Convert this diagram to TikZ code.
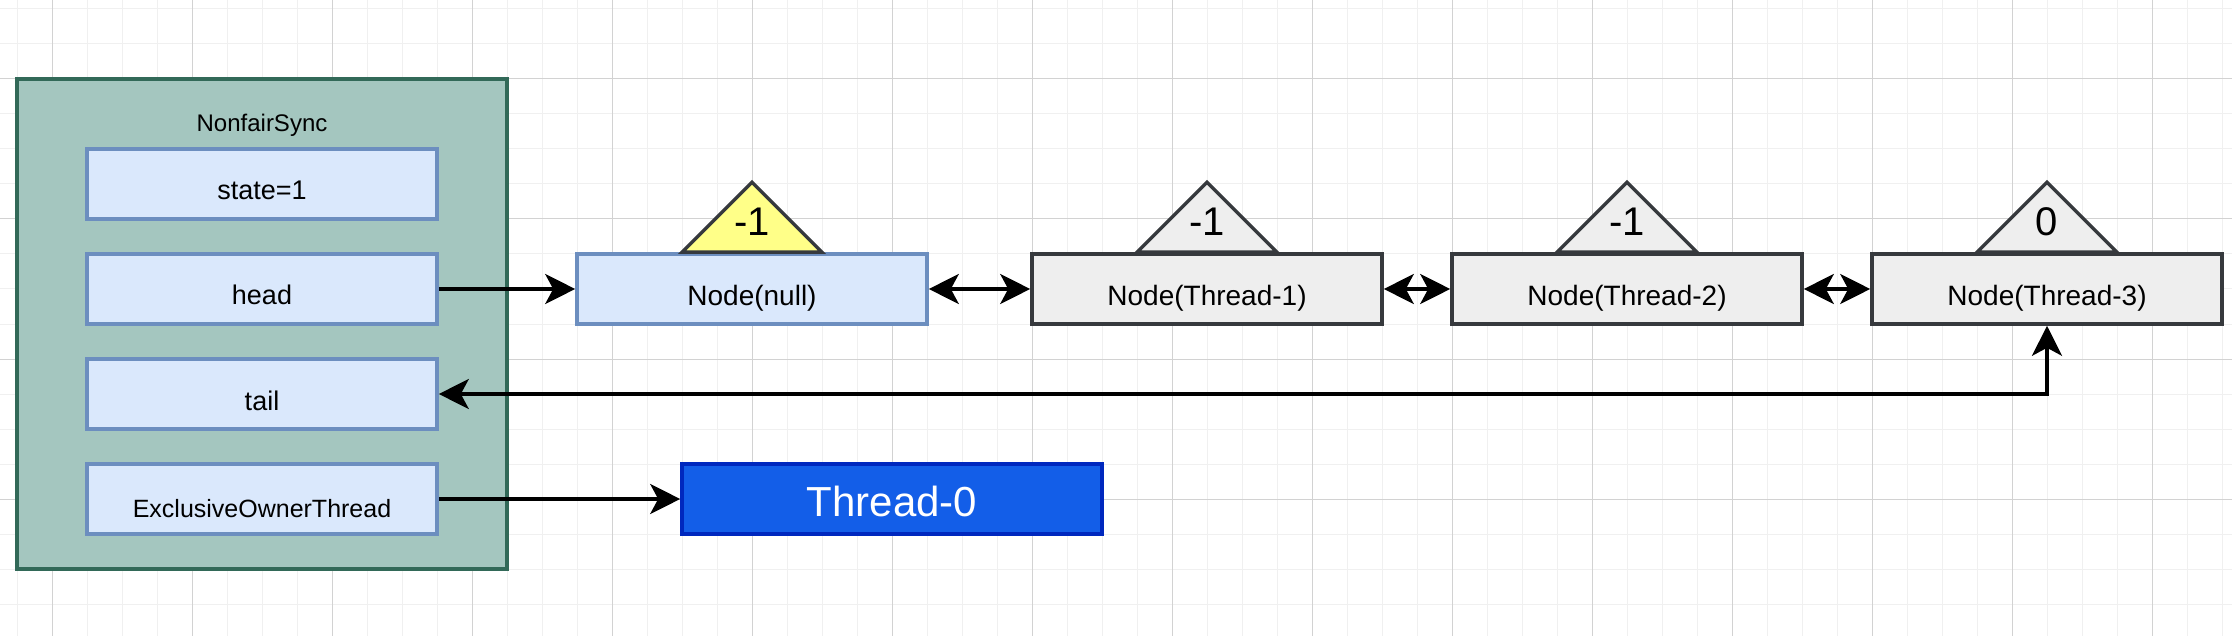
\documentclass[tikz,border=0pt]{standalone}
\usepackage{fontspec}
\setmainfont{Liberation Sans}
\usetikzlibrary{arrows.meta}

\definecolor{gridminor}{RGB}{240,240,240}
\definecolor{gridmajor}{RGB}{210,210,210}
\definecolor{syncfill}{RGB}{164,198,191}
\definecolor{syncline}{RGB}{50,105,88}
\definecolor{fieldfill}{HTML}{DAE8FC}
\definecolor{fieldline}{HTML}{6C8EBF}
\definecolor{waitfill}{HTML}{EEEEEE}
\definecolor{waitline}{HTML}{36393D}
\definecolor{flagyellow}{HTML}{FFFF88}
\definecolor{ownerfill}{RGB}{19,94,232}
\definecolor{ownerline}{RGB}{0,40,190}

\tikzset{
  grid minor/.style={draw=gridminor, line width=0.5pt},
  grid major/.style={draw=gridmajor, line width=0.5pt},
  sync box/.style={draw=syncline, fill=syncfill, line width=1.8pt,
    minimum width=245pt, minimum height=245pt, inner sep=0pt},
  sync title/.style={anchor=base, inner sep=0pt, font=\fontsize{12}{14}\selectfont},
  every field/.style={draw=fieldline, fill=fieldfill, line width=1.8pt,
    minimum width=175pt, minimum height=35pt, inner sep=0pt,
    text height=16pt, text depth=0pt, font=\fontsize{13.5}{16}\selectfont},
  field owner/.style={text height=18pt, font=\fontsize{12.5}{15}\selectfont},
  every qnode/.style={draw=waitline, fill=waitfill, line width=1.8pt,
    minimum width=175pt, minimum height=35pt, inner sep=0pt,
    text height=17pt, text depth=0pt, font=\fontsize{14}{16}\selectfont},
  qnode 0/.style={draw=fieldline, fill=fieldfill},
  every flag/.style={draw=waitline, fill=waitfill, line width=1.7pt, line join=miter},
  flag 0/.style={fill=flagyellow},
  flag text/.style={anchor=base, inner sep=0pt, font=\fontsize{20}{22}\selectfont},
  owner box/.style={draw=ownerline, fill=ownerfill, line width=1.8pt, text=white,
    minimum width=210pt, minimum height=35pt, inner sep=0pt,
    text height=17pt, text depth=0pt, font=\fontsize{21}{24}\selectfont},
  link/.style={line width=1.7pt}
}

\begin{document}
\begin{tikzpicture}[x=0.5pt, y=-0.5pt, >={Stealth[length=15pt,width=15pt,inset=4pt]}]

\useasboundingbox (0,0) rectangle (2232,636);
\fill [white] (0,0) rectangle (2232,636);

% background grid
\foreach \i in {0,...,63}
  \draw [grid minor] (17+35*\i,0) -- (17+35*\i,636);
\foreach \j in {0,...,17}
  \draw [grid minor] (0,9+35*\j) -- (2232,9+35*\j);
\foreach \i in {0,...,15}
  \draw [grid major] (52+140*\i,0) -- (52+140*\i,636);
\foreach \j in {0,...,3}
  \draw [grid major] (0,79+140*\j) -- (2232,79+140*\j);

% the sync object
\node [sync box] (sync) at (262,324) {};
\node [sync title] (sync-title) at (262,132) {NonfairSync};

\foreach \m/\l [count=\k] in {state/state=1, head/head, tail/tail, owner/ExclusiveOwnerThread}
  \node [every field/.try, field \m/.try] (field-\m) at (262,79+105*\k) {\l};

% wait queue
\foreach \nx/\lbl/\val [count=\i from 0] in {752/null/-1, 1207/Thread-1/-1, 1627/Thread-2/-1, 2047/Thread-3/0} {
  \node [every qnode/.try, qnode \i/.try] (node-\i) at (\nx,289) {Node(\lbl)};
  \draw [every flag/.try, flag \i/.try] (node-\i.north) ++(-70,0) -- ++(70,-70) -- ++(70,70) -- cycle;
  \node [flag text] (flag-\i) at (\nx,236) {\val};
}

\node [owner box] (owner) at (892,499) {Thread-0};

\draw [link,->] (field-head.east) -- (node-0.west);
\foreach \i [evaluate=\i as \j using int(\i+1)] in {0,1,2}
  \draw [link,<->] (node-\i.east) -- (node-\j.west);
\draw [link,<->] (field-tail.east) -| (node-3.south);
\draw [link,->] (field-owner.east) -- (owner.west);

\end{tikzpicture}
\end{document}
